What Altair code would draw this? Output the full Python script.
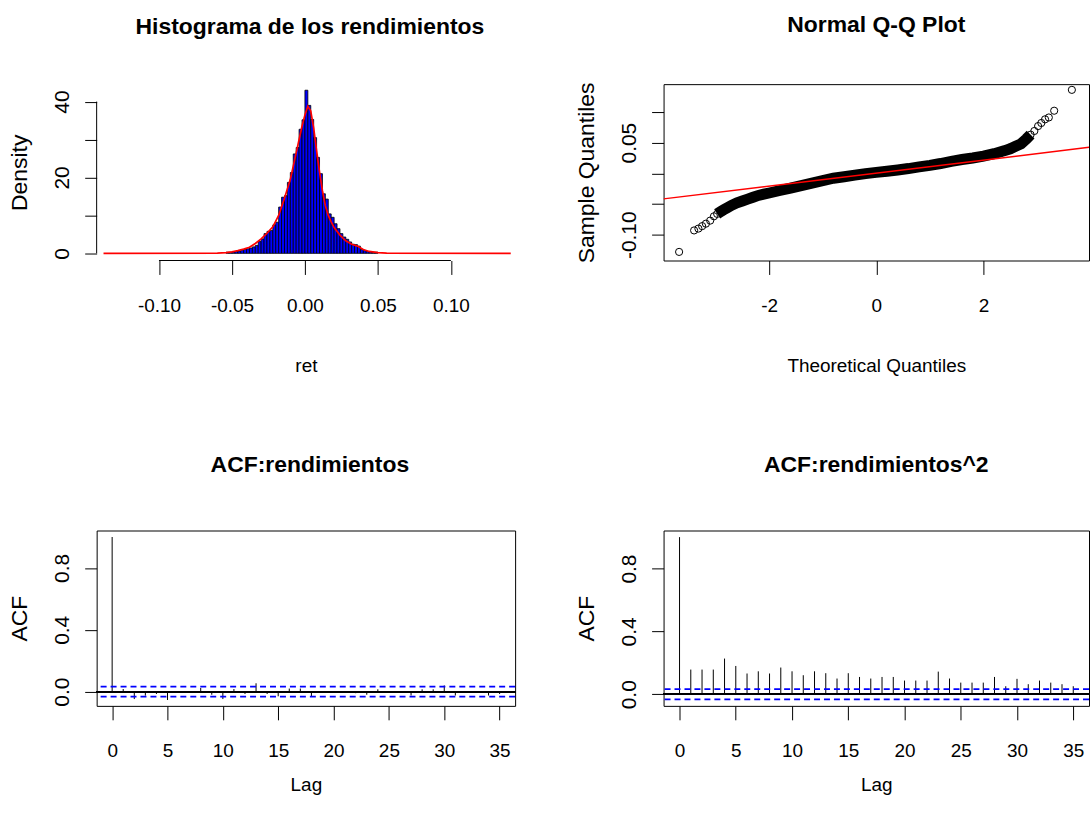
import altair as alt
import pandas as pd

# ---------------- data ----------------
# Histogram of returns: bins of width 0.002 starting at -0.054
hist_breaks_start = -0.054
hist_bin_width = 0.002
hist_density = [0.3, 0.3, 0.4, 0.5, 0.6, 0.8, 1.0, 1.2, 1.4, 1.7, 2.1, 3.1, 3.8, 5.2,
                5.8, 6.0, 7.5, 8.2, 12.2, 14.8, 15.2, 18.7, 21.3, 26.2, 27.9, 32.7, 35.2,
                43.0, 39.0, 35.3, 30.5, 25.3, 21.0, 15.7, 14.3, 10.4, 9.5, 7.8, 6.5, 5.2,
                4.3, 3.7, 3.0, 2.4, 2.3, 1.9, 1.0, 0.7, 0.5, 0.4, 0.3, 0.3]

# Kernel density curve (red)
dens_x = [-0.138, -0.060, -0.054, -0.050, -0.046, -0.042, -0.038, -0.034, -0.030, -0.026,
          -0.022, -0.018, -0.014, -0.010, -0.006, -0.004, -0.002, 0.000, 0.002, 0.004,
          0.006, 0.008, 0.010, 0.012, 0.014, 0.016, 0.018, 0.020, 0.024, 0.028, 0.032,
          0.036, 0.040, 0.044, 0.050, 0.056, 0.141]
dens_y = [0.0, 0.05, 0.2, 0.4, 0.7, 1.1, 1.6, 2.6, 3.8, 5.3,
          7.0, 10.0, 14.5, 19.5, 26.5, 30.0, 33.5, 36.5, 38.8, 37.5,
          33.0, 27.0, 21.5, 16.5, 12.5, 10.0, 8.3, 6.8, 4.8, 3.3, 2.4,
          1.9, 1.0, 0.5, 0.2, 0.05, 0.0]

# Normal Q-Q plot (theoretical quantile, sample quantile)
qq_theo = [-3.68, -3.40, -3.32, -3.25, -3.18, -3.10, -3.03, -2.97, -2.90, -2.84,
           -2.78, -2.70, -2.60, -2.50, -2.40, -2.30, -2.20, -2.10, -2.00, -1.80,
           -1.60, -1.40, -1.20, -1.00, -0.80, -0.60, -0.40, -0.20, 0.00, 0.20,
           0.40, 0.60, 0.80, 1.00, 1.20, 1.40, 1.60, 1.80, 2.00, 2.20,
           2.40, 2.50, 2.60, 2.70, 2.80, 2.88, 2.95, 3.02, 3.08, 3.15,
           3.22, 3.32, 3.65]
qq_sample = [-0.128, -0.093, -0.090, -0.086, -0.082, -0.077, -0.070, -0.066, -0.062, -0.059,
             -0.056, -0.052, -0.048, -0.045, -0.042, -0.039, -0.036, -0.034, -0.032, -0.028,
             -0.024, -0.020, -0.016, -0.012, -0.008, -0.0055, -0.003, -0.0005, 0.0015, 0.0035,
             0.0055, 0.0078, 0.0105, 0.013, 0.016, 0.0195, 0.0225, 0.025, 0.028, 0.032,
             0.037, 0.040, 0.044, 0.048, 0.056, 0.063, 0.069, 0.077, 0.082, 0.088,
             0.091, 0.102, 0.136]
qqline_x = [-3.97, 3.97]
qqline_y = [-0.0416, 0.0424]

# ACF values, lags 0..35
acf_lags = list(range(36))
acf_ret = [1.0, 0.017, -0.048, -0.026, -0.015, -0.054, 0.004, -0.006, 0.024, -0.02,
           -0.048, 0.017, -0.015, 0.054, -0.015, -0.03, 0.02, 0.02, -0.03, 0.003,
           -0.003, 0.004, -0.01, -0.02, 0.015, 0.002, -0.004, -0.025, 0.015, 0.015,
           0.04, -0.025, 0.003, -0.003, -0.025, -0.015]
acf_sq = [1.0, 0.157, 0.157, 0.157, 0.227, 0.18, 0.132, 0.146, 0.132, 0.17,
          0.146, 0.121, 0.146, 0.134, 0.10, 0.134, 0.11, 0.10, 0.11, 0.11,
          0.087, 0.087, 0.087, 0.144, 0.10, 0.074, 0.074, 0.074, 0.11, 0.051,
          0.098, 0.064, 0.087, 0.074, 0.064, 0.051]
acf_ci = 0.032

hist_xticks = [-0.10, -0.05, 0.00, 0.05, 0.10]
hist_yticks = [0, 10, 20, 30, 40]
qq_xticks = [-2, 0, 2]
qq_yticks = [-0.10, -0.05, 0.00, 0.05, 0.10]
acf_xticks = [0, 5, 10, 15, 20, 25, 30, 35]
acf_yticks = [0.0, 0.2, 0.4, 0.6, 0.8, 1.0]

# ---------------- styling ----------------
FONT = "Liberation Sans, Arial, sans-serif"
LW, TH, BH, RW = 420, 177, 176, 427
MINUS = "\u2212"


def ptitle(text, offset, dx=0):
    return alt.Title(text, font=FONT, fontSize=23, fontWeight="bold", color="black",
                     offset=offset, dx=dx, anchor="middle")


def hy_label(fmt):
    return "replace(format(datum.value, '" + fmt + "'), '" + MINUS + "', '-')"


# ---------------- histogram ----------------
starts = [hist_breaks_start + i * hist_bin_width for i in range(len(hist_density))]
hist_df = pd.DataFrame({"x0": starts, "x1": [s + hist_bin_width for s in starts],
                        "d": hist_density})
dens_df = pd.DataFrame({"x": dens_x, "y": dens_y})
hx = alt.Scale(domain=[-0.1427, 0.144], nice=False, zero=False)
hy = alt.Scale(domain=[-1.89, 44.6], nice=False, zero=False)

bars = alt.Chart(hist_df).mark_rect(fill="#0000FF", stroke="black", strokeWidth=0.8).encode(
    x=alt.X("x0:Q", scale=hx,
            axis=alt.Axis(values=hist_xticks, title="ret", titlePadding=41,
                          labelExpr=hy_label(".2f"))),
    x2="x1:Q",
    y=alt.Y("d:Q", scale=hy,
            axis=alt.Axis(values=hist_yticks, format="d", title="Density",
                          labelExpr="datum.value % 20 == 0 ? datum.label : ''")),
    y2=alt.datum(0),
)
dens = alt.Chart(dens_df).mark_line(color="#FF0000", strokeWidth=1.7).encode(
    x=alt.X("x:Q", scale=hx), y=alt.Y("y:Q", scale=hy))
xrule = alt.Chart(pd.DataFrame({"a": [hist_xticks[0]], "b": [hist_xticks[-1]]})).mark_rule(
    color="black", strokeWidth=1).encode(x=alt.X("a:Q", scale=hx), x2="b:Q", y=alt.value(TH))
yrule = alt.Chart(pd.DataFrame({"a": [hist_yticks[0]], "b": [hist_yticks[-1]]})).mark_rule(
    color="black", strokeWidth=1).encode(y=alt.Y("a:Q", scale=hy), y2="b:Q", x=alt.value(0))

hist = alt.layer(bars, dens, xrule, yrule).properties(
    width=LW, height=TH, title=ptitle("Histograma de los rendimientos", 45, 4),
    view=alt.ViewBackground(stroke="transparent"))

# ---------------- Q-Q plot ----------------
qq_df = pd.DataFrame({"t": qq_theo, "s": qq_sample})
band_df = qq_df[(qq_df["t"] > -3.0) & (qq_df["t"] < 2.9)]
qline_df = pd.DataFrame({"t": qqline_x, "s": qqline_y})
qx = alt.Scale(domain=[-3.97, 3.97], nice=False, zero=False)
qy = alt.Scale(domain=[-0.142, 0.1453], nice=False, zero=False)

band = alt.Chart(band_df).mark_line(color="black", strokeWidth=11).encode(
    x=alt.X("t:Q", scale=qx,
            axis=alt.Axis(values=qq_xticks, title="Theoretical Quantiles", titlePadding=41,
                          labelExpr=hy_label("d"))),
    y=alt.Y("s:Q", scale=qy,
            axis=alt.Axis(values=qq_yticks, title="Sample Quantiles",
                          labelExpr="abs(datum.value-0.05)<1e-6 || abs(datum.value+0.1)<1e-6 ? "
                                    + hy_label(".2f") + " : ''")),
)
pts = alt.Chart(qq_df).mark_point(shape="circle", filled=False, color="black",
                                  size=52, strokeWidth=1, opacity=1).encode(
    x=alt.X("t:Q", scale=qx), y=alt.Y("s:Q", scale=qy))
qline = alt.Chart(qline_df).mark_line(color="#FF0000", strokeWidth=1.5, clip=True).encode(
    x=alt.X("t:Q", scale=qx), y=alt.Y("s:Q", scale=qy))

qq = alt.layer(band, pts, qline).properties(
    width=RW, height=TH, title=ptitle("Normal Q-Q Plot", 45))


# ---------------- ACF panels ----------------
def acf_panel(values, ttl, width, ydom, xdom):
    df = pd.DataFrame({"lag": acf_lags, "acf": values})
    ax = alt.Scale(domain=xdom, nice=False, zero=False)
    ay = alt.Scale(domain=ydom, nice=False, zero=False)
    spikes = alt.Chart(df).mark_rule(color="black", strokeWidth=1).encode(
        x=alt.X("lag:Q", scale=ax, axis=alt.Axis(values=acf_xticks, format="d", title="Lag",
                                                 titlePadding=15)),
        y=alt.Y("acf:Q", scale=ay,
                axis=alt.Axis(values=acf_yticks, format=".1f", title="ACF",
                              labelExpr="abs(datum.value)<1e-6 || abs(datum.value-0.4)<1e-6 || abs(datum.value-0.8)<1e-6 ? datum.label : ''")),
        y2=alt.datum(0),
    )
    zero = alt.Chart(df).mark_rule(color="black", strokeWidth=1).encode(
        y=alt.datum(0, scale=ay))
    ci_df = pd.DataFrame({"c": [acf_ci, -acf_ci]})
    ci = alt.Chart(ci_df).mark_rule(color="#0000FF", strokeWidth=1.8, strokeDash=[6, 4]).encode(
        y=alt.Y("c:Q", scale=ay))
    return alt.layer(spikes, zero, ci).properties(width=width, height=BH, title=ttl)


acf1 = acf_panel(acf_ret, ptitle("ACF:rendimientos", 54, 4), LW, [-0.092, 1.042], [-1.4, 36.4])
acf2 = acf_panel(acf_sq, ptitle("ACF:rendimientos^2", 54), RW, [-0.074, 1.042], [-1.42, 36.4])

top = alt.hconcat(hist, qq, spacing=149, bounds="flush")
bottom = alt.hconcat(acf1, acf2, spacing=149, bounds="flush")
chart = alt.vconcat(top, bottom, spacing=TH + 271, bounds="flush").properties(
    padding={"left": 8, "top": 12, "right": 0, "bottom": 0}, background="white"
).configure_view(stroke="black", strokeWidth=1).configure_axis(
    grid=False, domain=False, ticks=True, tickColor="black", tickWidth=1, tickSize=13,
    labelColor="black", titleColor="black", labelOverlap=False, labelFlush=False,
    titleFontWeight="normal",
).configure_axisX(
    labelFont=FONT, labelFontSize=19, labelPadding=22, titleFont=FONT,
    titleFontSize=19, tickSize=14,
).configure_axisY(
    labelFont=FONT, labelFontSize=21, labelAngle=270, labelAlign="center",
    labelBaseline="bottom", labelPadding=12, titleFont=FONT, titleFontSize=23,
    titlePadding=20, tickSize=12,
)

chart.save("out.html", embed_options={"renderer": "svg", "actions": False})
